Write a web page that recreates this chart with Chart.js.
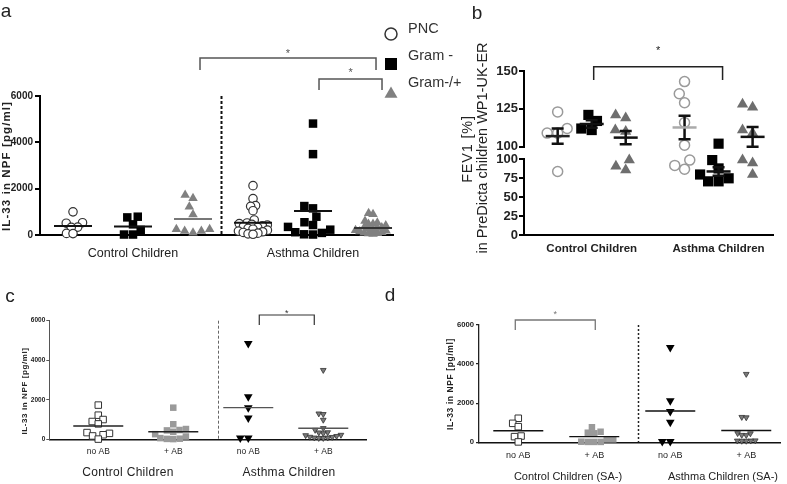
<!DOCTYPE html>
<html>
<head>
<meta charset="utf-8">
<script src="https://cdn.jsdelivr.net/npm/chart.js@4.4.0/dist/chart.umd.min.js"></script>
<style>
  body { margin: 0; width: 787px; height: 484px; position: relative; background: #fff; overflow: hidden;
         font-family: "Liberation Sans", Arial, sans-serif; color: #222; }
  canvas { position: absolute; }
  .t { position: absolute; white-space: nowrap; line-height: 1; transform: translate(-50%, -50%); }
  .rot { transform: translate(-50%, -50%) rotate(-90deg); }
</style>
</head>
<body>
<canvas id="chartA" width="400" height="262" style="left:0;top:0"></canvas>
<canvas id="chartB1" width="387" height="156" style="left:400px;top:0"></canvas>
<canvas id="chartB2" width="387" height="110" style="left:400px;top:150px"></canvas>
<canvas id="chartC" width="400" height="194" style="left:0;top:290px"></canvas>
<canvas id="chartD" width="387" height="194" style="left:400px;top:290px"></canvas>
<div id="texts"></div>

<script>
// ---------- data ----------
// panel a: IL-33 in NPF by bacteria group
const aCohorts = ['Control Children', 'Asthma Children'];
const aGroups = ['PNC', 'Gram -', 'Gram-/+'];
const aControlPNC = [1000, 530, 510, 340, 330, 70, 60];
const aControlGramNeg = [790, 760, 460, 220, 20, 20];
const aControlGramMix = [1730, 1590, 1220, 890, 250, 250, 170, 170, 100];
const aAsthmaPNC = [2130, 1570, 1270, 1240, 1050, 650, 520, 490, 460, 430, 400, 370, 330, 290, 250, 210, 170, 140, 110, 80, 50, 30];
const aAsthmaGramNeg = [4810, 3490, 1250, 1150, 790, 550, 430, 350, 230, 120, 90, 30, 20];
const aAsthmaGramMix = [940, 900, 600, 530, 480, 470, 410, 360, 320, 300, 270, 240, 210, 180, 150, 120, 100, 80, 60, 40];
const aMedians = [390, 370, 690, 530, 1040, 300];
const aTicks = [0, 2000, 4000, 6000];

// panel b: FEV1 % predicted
const bCohorts = ['Control Children', 'Asthma Children'];
const bControlPNC = [123, 112, 109, 109, 84];
const bControlGramNeg = [121, 117, 112, 111];
const bControlGramMix = [121, 119, 111, 110, 99, 91, 86];
const bAsthmaPNC = [143, 135, 129, 116, 101, 99, 92, 87];
const bAsthmaGramNeg = [102, 99, 88, 80, 75, 71, 71];
const bAsthmaGramMix = [128, 126, 111, 109, 99, 95, 80];
const bMeans = [107, 115, 106, 112.7, 84, 106.5];
const bSems = [5, 2.5, 4.4, 7.7, 5.5, 6.5];
const bUpperTicks = [100, 125, 150];
const bLowerTicks = [0, 25, 50, 75, 100];

// panels c and d: antibiotics
const treatments = ['no AB', '+ AB', 'no AB', '+ AB'];
const cCohorts = ['Control Children', 'Asthma Children'];
const cControlNoAB = [1730, 1220, 1000, 900, 780, 340, 300, 230, 170, 10];
const cControlAB = [1600, 760, 520, 470, 450, 380, 260, 140, 60, 30, 20, 10];
const cAsthmaNoAB = [4850, 2150, 1600, 1080, 60, 60];
const cAsthmaAB = [3500, 1300, 1270, 980, 560, 470, 350, 300, 220, 160, 110, 80, 60, 60, 80, 120, 200, 340];
const cMeans = [670, 385, 1600, 560];
const dCohorts = ['Control Children (SA-)', 'Asthma Children (SA-)'];
const dControlNoAB = [1230, 970, 800, 320, 290, 20];
const dControlAB = [770, 540, 490, 460, 150, 150, 30, 20, 20, 20];
const dAsthmaNoAB = [4850, 2130, 1570, 1030, 40, 40];
const dAsthmaAB = [3490, 1290, 1270, 460, 450, 370, 360, 90, 80, 70, 70, 80];
const dMeans = [590, 290, 1600, 600];
const cdTicks = [0, 2000, 4000, 6000];

// ---------- helpers ----------
const FONT = 'Liberation Sans';

// simple beeswarm: x offsets in px so that markers don't pile up
function swarm(values, toPx, diam) {
  const placed = [];
  const offs = new Array(values.length).fill(0);
  const order = values.map((v, i) => i).sort((p, q) => values[p] - values[q]);
  order.forEach(i => {
    const y = toPx(values[i]);
    const blocks = [];
    placed.forEach(p => {
      const dy = Math.abs(p.y - y);
      if (dy < diam) {
        const w = Math.sqrt(diam * diam - dy * dy);
        blocks.push([p.x - w, p.x + w]);
      }
    });
    const cands = [0];
    blocks.forEach(b => cands.push(b[0], b[1]));
    cands.sort((m, n) => Math.abs(m) - Math.abs(n));
    const x = cands.find(c => blocks.every(b => c <= b[0] + 1e-6 || c >= b[1] - 1e-6));
    placed.push({ x, y });
    offs[i] = x;
  });
  return offs;
}

function points(values, pos, toPx, diam, unitPx, keep) {
  const offs = swarm(values, toPx, diam);
  return values.map((v, i) => ({ x: pos + offs[i] / unitPx, y: v })).filter(p => !keep || keep(p.y));
}

function dataset(data, style) {
  return Object.assign({ data, showLine: false, clip: false, pointHoverRadius: style.pointRadius }, style);
}

function marksPlugin(cfg) {
  return {
    id: 'marks',
    beforeDatasetsDraw(chart) {
      const { ctx, chartArea: area, scales: { x } } = chart;
      if (!cfg.divider) return;
      const d = cfg.divider;
      const px = Math.round(x.getPixelForValue(d.x)) + 0.5;
      ctx.save();
      ctx.strokeStyle = d.color; ctx.lineWidth = d.width; ctx.setLineDash(d.dash);
      ctx.beginPath(); ctx.moveTo(px, area.top); ctx.lineTo(px, area.bottom); ctx.stroke();
      ctx.restore();
    },
    afterDatasetsDraw(chart) {
      const { ctx, chartArea: area, scales: { x, y } } = chart;
      ctx.save();
      (cfg.bars || []).forEach(b => {
        if (b.mean < y.min || b.mean > y.max) return;
        const px = x.getPixelForValue(b.x);
        const lo = y.getPixelForValue(b.mean - b.sem), hi = y.getPixelForValue(b.mean + b.sem);
        ctx.strokeStyle = b.color; ctx.lineWidth = b.width;
        ctx.beginPath();
        ctx.moveTo(px, lo); ctx.lineTo(px, hi);
        ctx.moveTo(px - b.cap, lo); ctx.lineTo(px + b.cap, lo);
        ctx.moveTo(px - b.cap, hi); ctx.lineTo(px + b.cap, hi);
        ctx.stroke();
      });
      (cfg.lines || []).forEach(l => {
        if (l.y < y.min || l.y > y.max) return;
        const px = x.getPixelForValue(l.x), py = y.getPixelForValue(l.y);
        ctx.strokeStyle = l.color; ctx.lineWidth = l.width;
        ctx.beginPath(); ctx.moveTo(px - l.half, py); ctx.lineTo(px + l.half, py); ctx.stroke();
      });
      (cfg.brackets || []).forEach(b => {
        const x1 = x.getPixelForValue(b.g1) + b.dx1, x2 = x.getPixelForValue(b.g2) + b.dx2;
        const top = area.top + b.top;
        ctx.strokeStyle = b.color; ctx.lineWidth = b.width; ctx.setLineDash([]);
        ctx.beginPath();
        ctx.moveTo(x1, top + b.leg); ctx.lineTo(x1, top); ctx.lineTo(x2, top); ctx.lineTo(x2, top + b.leg);
        ctx.stroke();
        ctx.fillStyle = b.color;
        ctx.font = b.starSize + 'px ' + FONT;
        ctx.textAlign = 'center'; ctx.textBaseline = 'alphabetic';
        const m = ctx.measureText('*');
        const cy = top - b.starGap;
        ctx.fillText('*', (x1 + x2) / 2, cy + (m.actualBoundingBoxAscent - m.actualBoundingBoxDescent) / 2);
      });
      (cfg.legend || []).forEach(s => {
        ctx.fillStyle = s.fill; ctx.strokeStyle = s.stroke;
        Chart.helpers.drawPoint(ctx, { pointStyle: s.style, radius: s.r, borderWidth: s.bw, rotation: 0 }, s.x, s.y);
      });
      ctx.restore();
    }
  };
}

function makeChart(id, c) {
  const xScale = {
    type: 'linear', min: c.xMin, max: c.xMax, display: !!c.xLabels,
    afterFit: s => { s.height = c.xHeight; },
    afterBuildTicks: s => { s.ticks = (c.xTickPos || []).map(v => ({ value: v })); },
    ticks: { callback: (v, i) => c.xLabels[i], font: c.xFont, color: '#222', padding: c.xPad, maxRotation: 0, autoSkip: false },
    grid: { display: false, drawTicks: false },
    border: { display: true, color: c.xBorder[0], width: c.xBorder[1] }
  };
  const yScale = {
    type: 'linear', min: c.yMin, max: c.yMax,
    afterFit: s => { s.width = c.yWidth; },
    afterBuildTicks: s => { s.ticks = c.yTicks.map(v => ({ value: v })); },
    ticks: { callback: v => String(v), font: c.yFont, color: '#222', padding: c.yPad },
    grid: { drawOnChartArea: false, drawTicks: true, tickLength: c.tickLen, color: c.yBorder[0], lineWidth: c.yBorder[1] },
    border: { display: true, color: c.yBorder[0], width: c.yBorder[1] }
  };
  return new Chart(document.getElementById(id), {
    type: 'scatter',
    data: { datasets: c.datasets },
    options: {
      responsive: false, animation: false, events: [],
      layout: { autoPadding: false, padding: c.padding },
      plugins: { legend: { display: false }, tooltip: { enabled: false } },
      scales: { x: xScale, y: yScale }
    },
    plugins: [marksPlugin(c.marks)]
  });
}

// ---------- panel a ----------
const aPos = [0, 1, 2, 3, 4, 5];
const aUnit = 60;
const aPx = v => v * 139 / 6000;
const circleA = { pointStyle: 'circle', pointRadius: 4.2, backgroundColor: '#fff', borderColor: '#333', borderWidth: 1.2 };
const squareA = { pointStyle: 'rect', pointRadius: 6, backgroundColor: '#000', borderColor: '#000', borderWidth: 0 };
const triA = { pointStyle: 'triangle', pointRadius: 5.5, backgroundColor: '#808080', borderColor: '#808080', borderWidth: 0 };
const aSeries = [aControlPNC, aControlGramNeg, aControlGramMix, aAsthmaPNC, aAsthmaGramNeg, aAsthmaGramMix];
const aStyles = [circleA, squareA, triA, circleA, squareA, triA];
const aDiam = [6.5, 9, 8.5, 5, 9, 4.5];
const aLineColors = ['#111', '#111', '#777', '#111', '#111', '#333'];

makeChart('chartA', {
  datasets: aSeries.map((vals, i) => dataset(points(vals, aPos[i], aPx, aDiam[i], aUnit), aStyles[i])),
  xMin: -0.55, xMax: 5.333, yMin: 0, yMax: 6000,
  padding: { top: 96, right: 7, left: 0, bottom: 0 },
  yWidth: 40, xHeight: 27, tickLen: 5, yPad: 2, xPad: 11,
  xTickPos: [1, 4], xLabels: aCohorts,
  xFont: { family: FONT, size: 12.5 }, yFont: { family: FONT, size: 10, weight: 'bold' },
  xBorder: ['#000', 2], yBorder: ['#000', 2], yTicks: aTicks,
  marks: {
    divider: { x: 2.47, color: '#111', width: 2, dash: [3, 2] },
    lines: aMedians.map((m, i) => ({ x: aPos[i], y: m, half: 19, color: aLineColors[i], width: 2 })),
    brackets: [
      { g1: 2, g2: 5, dx1: 7, dx2: 3, top: -38, leg: 12, color: '#555', width: 1.5, starGap: 7, starSize: 11 },
      { g1: 4, g2: 5, dx1: 6, dx2: 9, top: -17, leg: 11, color: '#555', width: 1.5, starGap: 9, starSize: 11 }
    ],
    legend: [
      { style: 'circle', r: 6, fill: '#fff', stroke: '#333', bw: 1.4, x: 391, y: 34 },
      { style: 'rect', r: 8.5, fill: '#000', stroke: '#000', bw: 0, x: 391, y: 64 },
      { style: 'triangle', r: 7.5, fill: '#808080', stroke: '#808080', bw: 0, x: 391, y: 94 }
    ]
  }
});

// ---------- panel b (broken axis: two stacked charts) ----------
const bPos = [0, 1, 2, 3.73, 4.73, 5.73];
const bUnit = 34;
const bPx = v => (v < 100 ? v * 0.76 : 88.6 + (v - 100) * 1.513);
const circleB = { pointStyle: 'circle', pointRadius: 5, backgroundColor: '#fff', borderColor: '#9a9a9a', borderWidth: 1.5 };
const squareB = { pointStyle: 'rect', pointRadius: 7.2, backgroundColor: '#000', borderColor: '#000', borderWidth: 0 };
const triB = { pointStyle: 'triangle', pointRadius: 6.5, backgroundColor: '#6e6e6e', borderColor: '#6e6e6e', borderWidth: 0 };
const bSeries = [bControlPNC, bControlGramNeg, bControlGramMix, bAsthmaPNC, bAsthmaGramNeg, bAsthmaGramMix];
const bStyles = [circleB, squareB, triB, circleB, squareB, triB];
const bLineColors = ['#222', '#111', '#111', '#aaa', '#111', '#111'];
const bMarks = {
  lines: bMeans.map((m, i) => ({ x: bPos[i], y: m, half: 12, color: bLineColors[i], width: 2.5 })),
  bars: bMeans.map((m, i) => ({ x: bPos[i], mean: m, sem: bSems[i], cap: 6, color: '#111', width: 2.5 }))
};
const bCommon = {
  xMin: -0.99, xMax: 6.33, yWidth: 124, tickLen: 5, yPad: 1,
  yFont: { family: FONT, size: 13, weight: 'bold' }, xFont: { family: FONT, size: 11.5, weight: 'bold' },
  xBorder: ['#000', 2], yBorder: ['#000', 2]
};
makeChart('chartB1', Object.assign({}, bCommon, {
  datasets: bSeries.map((vals, i) => dataset(points(vals, bPos[i], bPx, 10.5, bUnit, v => v >= 100), bStyles[i])),
  yMin: 100, yMax: 150, yTicks: bUpperTicks, xHeight: 0, xPad: 0,
  padding: { top: 71, right: 14, left: 0, bottom: 9.3 },
  marks: Object.assign({
    brackets: [{ g1: 1, g2: 4.73, dx1: 2, dx2: 4, top: -4.3, leg: 13.3, color: '#222', width: 1.5, starGap: 18.5, starSize: 11 }]
  }, bMarks)
}));
makeChart('chartB2', Object.assign({}, bCommon, {
  datasets: bSeries.map((vals, i) => dataset(points(vals, bPos[i], bPx, 10.5, bUnit, v => v < 100), bStyles[i])),
  yMin: 0, yMax: 100, yTicks: bLowerTicks, xHeight: 24.7, xPad: 7,
  xTickPos: [1, 4.73], xLabels: bCohorts,
  padding: { top: 9.3, right: 14, left: 0, bottom: 0 },
  marks: bMarks
}));

// ---------- panels c and d ----------
const cdPos = [0, 1, 2, 3];
const openSq = { pointStyle: 'rect', pointRadius: 4.6, backgroundColor: '#fff', borderColor: '#333', borderWidth: 1 };
const greySq = { pointStyle: 'rect', pointRadius: 4.6, backgroundColor: '#9a9a9a', borderColor: '#9a9a9a', borderWidth: 0 };
const bigTri = { pointStyle: 'triangle', pointRotation: 180, pointRadius: 5, backgroundColor: '#000', borderColor: '#000', borderWidth: 0 };
const smallTri = { pointStyle: 'triangle', pointRotation: 180, pointRadius: 3.3, backgroundColor: '#7a7a7a', borderColor: '#333', borderWidth: 0.8 };
const cdStyles = [openSq, greySq, bigTri, smallTri];
const cdDiam = [6.5, 6.5, 8, 4.5];

function cdChart(id, series, means, unit, pxPerVal, extra) {
  const toPx = v => v * pxPerVal;
  return makeChart(id, Object.assign({
    datasets: series.map((vals, i) => dataset(points(vals, cdPos[i], toPx, cdDiam[i], unit), cdStyles[i])),
    yMin: 0, yMax: 6000, yTicks: cdTicks,
    xTickPos: cdPos, xLabels: treatments
  }, extra, {
    marks: Object.assign({
      lines: means.map((m, i) => ({ x: cdPos[i], y: m, half: 25, color: extra.lineColors[i], width: 1.4 }))
    }, extra.marks)
  }));
}

cdChart('chartC', [cControlNoAB, cControlAB, cAsthmaNoAB, cAsthmaAB], cMeans, 75, 118.6 / 6000, {
  xMin: -0.653, xMax: 3.579, padding: { top: 30.7, right: 33.3, left: 0, bottom: 0 },
  yWidth: 49.3, xHeight: 44.7, tickLen: 3, yPad: 1, xPad: 7.5,
  xFont: { family: FONT, size: 8.5 }, yFont: { family: FONT, size: 6.5, weight: 'bold' },
  xBorder: ['#111', 1.5], yBorder: ['#555', 1],
  lineColors: ['#222', '#222', '#555', '#555'],
  marks: {
    divider: { x: 1.6, color: '#666', width: 1, dash: [3, 2] },
    brackets: [{ g1: 2, g2: 3, dx1: 11, dx2: -9, top: -5.7, leg: 10, color: '#333', width: 1.2, starGap: 3.5, starSize: 9 }]
  }
});

cdChart('chartD', [dControlNoAB, dControlAB, dAsthmaNoAB, dAsthmaAB], dMeans, 76, 117.3 / 6000, {
  xMin: -0.517, xMax: 3.444, padding: { top: 35, right: 7, left: 0, bottom: 0 },
  yWidth: 79, xHeight: 41.7, tickLen: 3, yPad: 2, xPad: 7.5,
  xFont: { family: FONT, size: 9 }, yFont: { family: FONT, size: 7.7, weight: 'bold' },
  xBorder: ['#111', 1.5], yBorder: ['#222', 1.3],
  lineColors: ['#111', '#111', '#111', '#111'],
  marks: {
    divider: { x: 1.57, color: '#222', width: 1.5, dash: [2, 2] },
    brackets: [{ g1: 0, g2: 1, dx1: -3, dx2: 1, top: -5, leg: 10, color: '#777', width: 1.3, starGap: 6.7, starSize: 9 }]
  }
});

// ---------- html text: panel letters, legend labels, axis titles, cohort labels ----------
const texts = [
  ['a', 6, 9.5, 'font-size:19px'],
  ['b', 477, 11.5, 'font-size:19px'],
  ['c', 10, 294.5, 'font-size:19px'],
  ['d', 390, 293.5, 'font-size:19px'],
  [aGroups[0], 408, 27.5, 'font-size:14.5px;transform:translate(0,-50%);color:#333'],
  [aGroups[1], 408, 55, 'font-size:14.5px;transform:translate(0,-50%);color:#333'],
  [aGroups[2], 408, 82, 'font-size:14.5px;transform:translate(0,-50%);color:#333'],
  ['IL-33 in NPF [pg/ml]', 6.5, 166, 'font-size:11.5px;font-weight:bold;letter-spacing:1.1px', true],
  ['FEV1 [%]', 467, 149, 'font-size:14.5px;letter-spacing:0.8px', true],
  ['in PreDicta children WP1-UK-ER', 482, 148, 'font-size:14.5px', true],
  ['IL-33 in NPF [pg/ml]', 25, 391, 'font-size:8px;font-weight:bold;letter-spacing:0.6px', true],
  ['IL-33 in NPF [pg/ml]', 450, 384, 'font-size:8.5px;font-weight:bold;letter-spacing:0.6px', true],
  [cCohorts[0], 128, 472, 'font-size:12px;letter-spacing:0.3px'],
  [cCohorts[1], 289, 472, 'font-size:12px;letter-spacing:0.3px'],
  [dCohorts[0], 568, 476, 'font-size:11px'],
  [dCohorts[1], 723, 476, 'font-size:11px']
];
document.getElementById('texts').innerHTML = texts.map(([s, x, y, css, rot]) =>
  `<div class="t${rot ? ' rot' : ''}" style="left:${x}px;top:${y}px;${css}">${s}</div>`).join('');
</script>
</body>
</html>
